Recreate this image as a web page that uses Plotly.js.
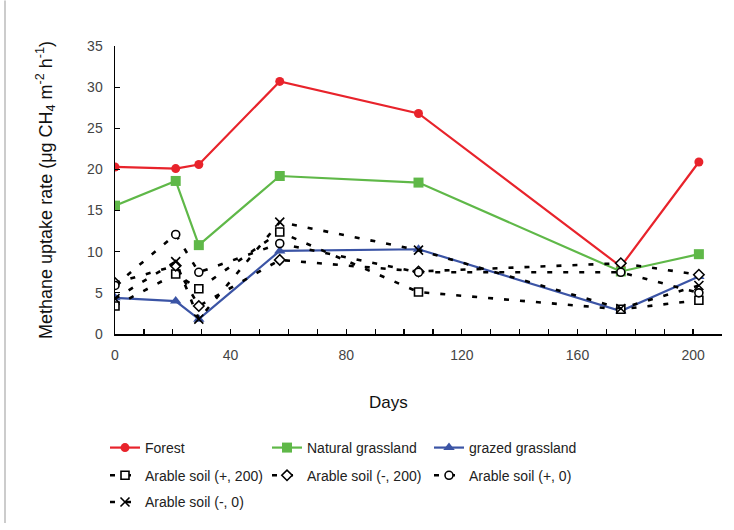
<!DOCTYPE html>
<html><head><meta charset="utf-8">
<script src="https://cdn.plot.ly/plotly-3.0.1.min.js"></script>
<style>html,body{margin:0;padding:0;background:#fff}#chart{width:734px;height:530px}</style>
</head><body><div id="chart"></div>
<script>
const days = [0, 21, 29, 57, 105, 175, 202];
const forest = [20.3, 20.1, 20.6, 30.7, 26.8, 8.2, 20.9];
const naturalGrassland = [15.6, 18.6, 10.8, 19.2, 18.4, 7.6, 9.7];
const grazedGrassland = [4.4, 4.0, 1.8, 10.1, 10.3, 2.8, 7.0];
const arablePlus200 = [3.4, 7.3, 5.5, 12.4, 5.1, 3.0, 4.1];
const arableMinus200 = [6.2, 8.3, 3.4, 9.0, 7.6, 8.6, 7.2];
const arablePlus0 = [5.9, 12.1, 7.5, 11.0, 7.5, 7.5, 5.0];
const arableMinus0 = [4.3, 8.8, 1.8, 13.6, 10.2, 3.1, 5.9];
const seriesNames = ['Forest', 'Natural grassland', 'grazed grassland',
  'Arable soil (+, 200)', 'Arable soil (-, 200)', 'Arable soil (+, 0)', 'Arable soil (-, 0)'];
const xTicks = [0, 40, 80, 120, 160, 200];

const FONT = 'Liberation Sans Narrow, Arial Narrow, Liberation Sans, Arial, sans-serif';
const dashPat = '5px,11px';

function solid(name, y, color, symbol, size, legend) {
  return {x: days, y: y, name: name, type: 'scatter', mode: 'lines+markers',
    line: {color: color, width: 2.2}, marker: {color: color, symbol: symbol, size: size},
    legend: legend};
}
function dashed(name, y, symbol, size, legend) {
  return {x: days, y: y, name: name, type: 'scatter', mode: 'lines+markers',
    line: {color: '#000', width: 2.6, dash: dashPat},
    marker: {color: symbol === 'x-thin-open' ? '#000' : '#fff', symbol: symbol, size: size,
      line: {color: '#000', width: 1.6}},
    legend: legend};
}

const traces = [
  solid(seriesNames[0], forest, '#e8232b', 'circle', 9, 'legend'),
  solid(seriesNames[1], naturalGrassland, '#5fb848', 'square', 10, 'legend'),
  solid(seriesNames[2], grazedGrassland, '#3b54a5', 'triangle-up', 10, 'legend'),
  dashed(seriesNames[3], arablePlus200, 'square', 8, 'legend2'),
  dashed(seriesNames[4], arableMinus200, 'diamond', 8, 'legend2'),
  dashed(seriesNames[5], arablePlus0, 'circle', 8, 'legend2'),
  dashed(seriesNames[6], arableMinus0, 'x-thin-open', 9, 'legend3')
];

const L = 115, R = 722, T = 46, B = 337;
const W = R - L, H = B - T;
const px = v => (v - L) / W;
const py = v => (B - v) / H;

function leg(yPix) {
  return {orientation: 'h', x: px(105), xanchor: 'left', y: py(yPix), yanchor: 'top',
    entrywidth: 117, entrywidthmode: 'pixels', font: {family: FONT, size: 14, color: '#222'},
    bgcolor: 'rgba(0,0,0,0)', borderwidth: 0, itemclick: false};
}

const layout = {
  width: 734, height: 530,
  margin: {l: L, r: 734 - R, t: T, b: 530 - B},
  paper_bgcolor: '#fff', plot_bgcolor: '#fff',
  font: {family: FONT, size: 14, color: '#333'},
  showlegend: true,
  xaxis: {range: [0, 210], tickvals: xTicks, ticktext: xTicks.map(String),
    ticks: 'inside', ticklen: 5, tickwidth: 1.2, tickcolor: '#000',
    minor: {dtick: 10, tick0: 0, ticks: 'inside', ticklen: 5, tickwidth: 1.2, tickcolor: '#000'},
    showline: true, linecolor: '#000', linewidth: 1.5, showgrid: false, zeroline: false,
    ticklabelstandoff: 8, tickfont: {family: FONT, size: 14, color: '#444'}},
  yaxis: {range: [0, 35], dtick: 5, tick0: 0, ticks: 'inside', ticklen: 5, tickwidth: 1.2, tickcolor: '#000',
    showline: true, linecolor: '#000', linewidth: 1.5, showgrid: false, zeroline: false,
    ticklabelstandoff: 8, tickfont: {family: FONT, size: 14, color: '#444'},
    title: {text: 'Methane uptake rate (μg CH<sub>4</sub> m<sup>-2</sup> h<sup>-1</sup>)',
      font: {family: FONT, size: 18, color: '#111'}, standoff: 30}},
  legend: leg(436),
  legend2: leg(464),
  legend3: leg(491),
  annotations: [{text: 'Days', xref: 'paper', yref: 'paper', x: px(388), y: py(406),
    xanchor: 'center', yanchor: 'middle', showarrow: false,
    font: {family: FONT, size: 17, color: '#111'}}],
  shapes: [{type: 'line', xref: 'paper', yref: 'paper', x0: px(5), x1: px(5), y0: py(0), y1: py(528),
    line: {color: '#999', width: 1}}]
};

Plotly.newPlot('chart', traces, layout, {displayModeBar: false, staticPlot: true});
</script></body></html>
